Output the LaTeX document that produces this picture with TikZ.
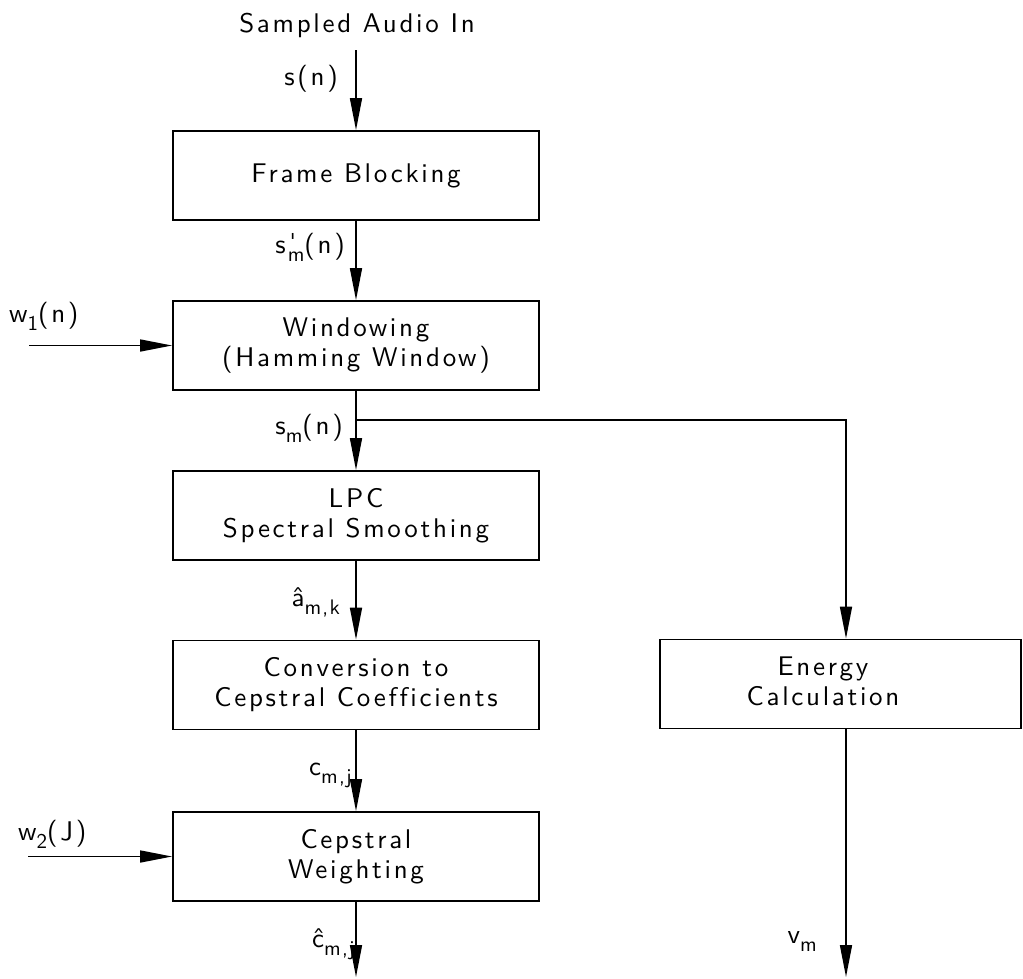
\documentclass[tikz,border=0pt]{standalone}
\usepackage{fontspec}
\usetikzlibrary{arrows.meta}
% thin plotter-like lettering
\newfontfamily\plotfont[LetterSpace=10, Ligatures={NoCommon}]{lmsans10-regular.otf}
\newfontfamily\plotsmall[LetterSpace=6, Ligatures={NoCommon}]{lmsans10-regular.otf}
\newcommand\lowsub[1]{\raisebox{-8pt}{\fontsize{21}{21}\plotsmall #1}}
\newcommand\primesub[1]{\kern2pt\raisebox{-8pt}{\fontsize{21}{21}\plotsmall\shortstack[l]{\kern2pt'\\#1}}}
\begin{document}
\begin{tikzpicture}[x=1pt,y=-1pt,
  every node/.style={font=\fontsize{27}{30}\plotfont},
  block/.style={draw, line width=1.8pt, minimum width=366pt, minimum height=89pt,
                align=center, inner sep=0pt},
  flow/.style={line width=1.6pt, -{Triangle[length=32pt,width=12pt]}},
  sig/.style={anchor=base east, inner sep=0pt},
  sigl/.style={anchor=base west, inner sep=0pt}]
\useasboundingbox (0,0) rectangle (1023,978);

% processing chain
\node[anchor=base, inner sep=0pt] (src) at (357,32) {Sampled Audio In};
\node[block] (frame) at (356,175.5) {Frame Blocking};
\node[block] (win)   at (356,345.5) {Windowing\\(Hamming Window)};
\node[block] (lpc)   at (356,515.5) {LPC\\Spectral Smoothing};
\node[block] (conv)  at (356,685)   {Conversion to\\Cepstral Coefficients};
\node[block] (wgt)   at (356,856.5) {Cepstral\\Weighting};
\node[block, minimum width=361pt] (energy) at (840.5,684) {};
\node[align=center, inner sep=0pt] (etext) at (823,681) {Energy\\Calculation};

% free ends
\coordinate (in)   at (356,50);
\coordinate (w1)   at (29,345.5);
\coordinate (w2)   at (28,856.5);
\coordinate (br)   at (356,420);
\coordinate (cout) at (356,977);
\coordinate (vout) at (846,977);

% connectors
\draw[flow] (in) -- (frame.north);
\draw[flow] (frame) -- (win);
\draw[flow] (win) -- (lpc);
\draw[flow] (lpc) -- (conv);
\draw[flow] (conv) -- (wgt);
\draw[flow] (wgt) -- (cout);
\draw[flow] (w1) -- (win.west);
\draw[flow] (w2) -- (wgt.west);
\draw[flow] (br) -| (energy.north -| vout);
\draw[flow] (energy.south -| vout) -- (vout);

% signal labels
\node[sig] (ls)  at (338,85)  {s(n)};
\node[sig] (lsp) at (345,253) {s\primesub{m}(n)};
\node[sig] (lsm) at (343,434) {s\lowsub{m}(n)};
\node[sig] (la)  at (340,606) {\^a\lowsub{m,k}};
\node[sig] (lc)  at (352,775) {c\lowsub{m,j}};
\node[sig] (lch) at (355,947) {\^c\lowsub{m,j}};
\node[sig] (lv)  at (817,943) {v\lowsub{m}};
\node[sigl] (lw1) at (9,322)  {w\lowsub{1}(n)};
\node[sigl] (lw2) at (18,840) {w\lowsub{2}(J)};
\end{tikzpicture}
\end{document}
